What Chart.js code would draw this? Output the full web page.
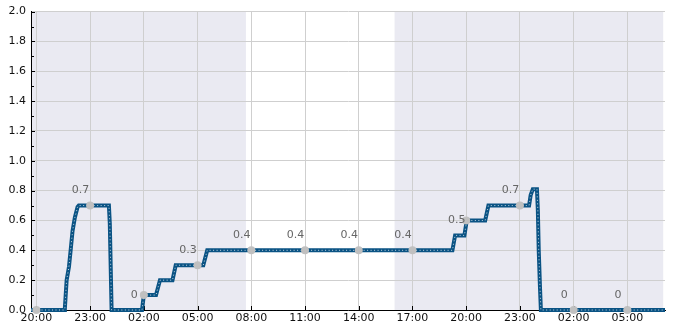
<!DOCTYPE html>
<html>
<head>
<meta charset="utf-8">
<script src="https://cdn.jsdelivr.net/npm/chart.js@4/dist/chart.umd.min.js"></script>
<style>
html,body{margin:0;padding:0;background:#fff;}
#wrap{width:685px;height:330px;}
</style>
</head>
<body>
<div id="wrap"><canvas id="c" width="685" height="330"></canvas></div>
<script>
// hours counted from 20:00 on the first day
const lineHours = [-0.3, 1.55, 1.59, 1.69, 1.82, 1.93, 2.02, 2.15, 2.30, 2.37, 4.05, 4.1, 4.2,
  5.9, 6.0, 6.68, 6.9, 7.6, 7.78, 9.32, 9.54, 23.23, 23.38, 23.9, 24.03, 25.06, 25.24,
  27.51, 27.6, 27.72, 27.95, 28.0, 28.05, 28.12, 28.17, 35.1];
const lineValues = [0, 0, 0.01, 0.2, 0.29, 0.42, 0.53, 0.62, 0.69, 0.7, 0.7, 0.58, 0,
  0, 0.1, 0.1, 0.2, 0.2, 0.3, 0.3, 0.4, 0.4, 0.5, 0.5, 0.6, 0.6, 0.7,
  0.7, 0.77, 0.81, 0.81, 0.67, 0.4, 0.15, 0, 0];

const markerHours = [0, 3, 6, 9, 12, 15, 18, 21, 24, 27, 30, 33];
const markerValues = [0, 0.7, 0.1, 0.3, 0.4, 0.4, 0.4, 0.4, 0.6, 0.7, 0, 0];
const labelValues = [null, 0.7, 0, 0.3, 0.4, 0.4, 0.4, 0.4, 0.5, 0.7, 0, 0];
const labelTexts = [null, '0.7', '0', '0.3', '0.4', '0.4', '0.4', '0.4', '0.5', '0.7', '0', '0'];

// shaded (night) spans in hours from 20:00
const shadeSpans = [[-0.3, 11.7], [20.0, 35.0]];

const tickHours = [0, 3, 6, 9, 12, 15, 18, 21, 24, 27, 30, 33];

const FONT = 'DejaVu Sans';

const shadePlugin = {
  id: 'shade',
  beforeDraw(chart) {
    const {ctx, chartArea, scales} = chart;
    ctx.save();
    ctx.fillStyle = '#eaeaf2';
    shadeSpans.forEach(([a, b]) => {
      const x1 = Math.max(scales.x.getPixelForValue(a), chartArea.left);
      const x2 = Math.min(scales.x.getPixelForValue(b), chartArea.right);
      ctx.fillRect(x1, chartArea.top, x2 - x1, chartArea.bottom - chartArea.top);
    });
    ctx.restore();
  },
  beforeDatasetsDraw(chart) {
    const {ctx, chartArea, scales} = chart;
    ctx.save();
    ctx.strokeStyle = '#000';
    ctx.lineWidth = 1;
    ctx.beginPath();
    for (let i = 0; i <= 20; i++) {
      const y = Math.round(scales.y.getPixelForValue(i * 0.1)) + 0.5;
      const len = (i % 2 === 0) ? 4 : 3;
      ctx.moveTo(chartArea.left, y);
      ctx.lineTo(chartArea.left + len, y);
    }
    tickHours.forEach(h => {
      const x = Math.round(scales.x.getPixelForValue(h)) + 0.5;
      ctx.moveTo(x, chartArea.bottom);
      ctx.lineTo(x, chartArea.bottom - 4);
    });
    ctx.stroke();
    ctx.restore();
  },
  afterDatasetsDraw(chart) {
    const {ctx, scales} = chart;
    ctx.save();
    ctx.fillStyle = '#666';
    ctx.font = '11px "' + FONT + '"';
    ctx.textAlign = 'center';
    ctx.textBaseline = 'middle';
    markerHours.forEach((h, i) => {
      if (labelTexts[i] === null) return;
      const x = scales.x.getPixelForValue(h) - 9.5;
      const y = scales.y.getPixelForValue(labelValues[i]) - 15;
      ctx.fillText(labelTexts[i], x, y);
    });
    ctx.restore();
  }
};

const lineData = lineHours.map((h, i) => ({x: h, y: lineValues[i]}));
const markerData = markerHours.map((h, i) => ({x: h, y: markerValues[i]}));

new Chart(document.getElementById('c'), {
  type: 'line',
  data: {
    datasets: [
      {
        data: markerData,
        showLine: false,
        pointRadius: 4,
        pointBackgroundColor: '#c0c0c0',
        pointBorderWidth: 0,
        pointBorderColor: '#c0c0c0',
        clip: 6,
        order: 0
      },
      {
        data: lineData,
        borderColor: 'rgba(255,255,255,0.75)',
        borderWidth: 1,
        borderDash: [1, 2.5],
        pointRadius: 0,
        tension: 0,
        clip: 6,
        order: 1
      },
      {
        data: lineData,
        borderColor: '#0a5384',
        borderWidth: 4,
        pointRadius: 0,
        tension: 0,
        borderJoinStyle: 'miter',
        clip: 6,
        order: 2
      }
    ]
  },
  options: {
    responsive: false,
    animation: false,
    events: [],
    layout: {padding: {top: 10, right: 20, left: 0, bottom: 0}},
    plugins: {legend: {display: false}, tooltip: {enabled: false}},
    scales: {
      x: {
        type: 'linear',
        min: -0.3,
        max: 35.1,
        afterBuildTicks(scale) { scale.ticks = tickHours.map(v => ({value: v})); },
        afterFit(scale) { scale.height = 20; },
        grid: {color: '#cfcfcf', lineWidth: 1, drawTicks: false},
        border: {display: true, color: '#000', width: 1},
        ticks: {
          padding: 2,
          maxRotation: 0,
          autoSkip: false,
          color: '#111',
          font: {family: FONT, size: 11},
          callback(v) {
            const hh = ((20 + v) % 24 + 24) % 24;
            return String(hh).padStart(2, '0') + ':00';
          }
        }
      },
      y: {
        min: 0,
        max: 2,
        afterFit(scale) { scale.width = 31; },
        grid: {color: '#cfcfcf', lineWidth: 1, drawTicks: false},
        border: {display: true, color: '#000', width: 1},
        ticks: {
          stepSize: 0.2,
          padding: 5,
          color: '#111',
          font: {family: FONT, size: 11},
          callback(v) { return v.toFixed(1); }
        }
      }
    }
  },
  plugins: [shadePlugin]
});
</script>
</body>
</html>
